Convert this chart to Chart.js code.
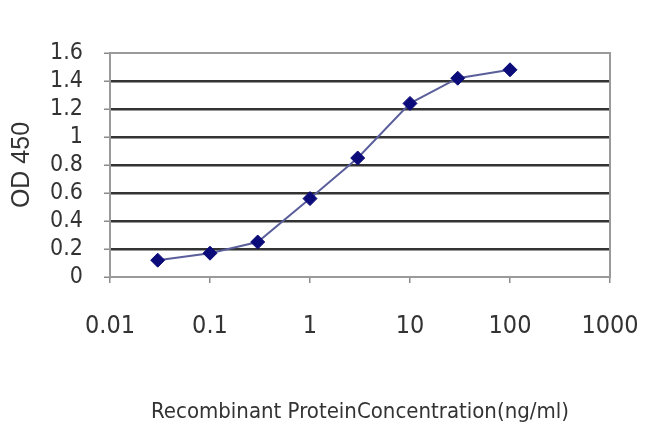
<!DOCTYPE html>
<html>
<head>
  <meta charset="UTF-8" />
  <title>OD 450 curve</title>
  <script src="https://cdn.jsdelivr.net/npm/chart.js"></script>
  <style>
    html, body { margin: 0; padding: 0; background: #fff; }
    #wrap { width: 650px; height: 434px; }
  </style>
</head>
<body>
  <div id="wrap"><canvas id="odChart"></canvas></div>

  <script>
    // concentration (ng/ml) and OD 450 readings
    const concentrations = [0.03, 0.1, 0.3, 1, 3, 10, 30, 100];
    const odValues = [0.12, 0.17, 0.25, 0.56, 0.85, 1.24, 1.42, 1.48];

    const xTicks = [0.01, 0.1, 1, 10, 100, 1000];
    const xTickLabels = ['0.01', '0.1', '1', '10', '100', '1000'];
    const yTickLabels = ['0', '0.2', '0.4', '0.6', '0.8', '1', '1.2', '1.4', '1.6'];

    const narrow = "'Liberation Sans Narrow', 'DejaVu Sans Condensed', sans-serif";

    // gray box round the plot area
    const frame = {
      id: 'frame',
      beforeDatasetsDraw(chart) {
        const a = chart.chartArea;
        const ctx = chart.ctx;
        ctx.save();
        ctx.strokeStyle = '#9a9a9a';
        ctx.lineWidth = 2;
        ctx.strokeRect(a.left, a.top, a.right - a.left, a.bottom - a.top);
        ctx.restore();
      }
    };

    new Chart(document.getElementById('odChart'), {
      type: 'scatter',
      data: {
        datasets: [{
          data: concentrations.map((c, i) => ({ x: c, y: odValues[i] })),
          showLine: true,
          borderColor: '#5a5f9c',
          borderWidth: 2,
          tension: 0,
          pointStyle: 'rectRot',
          pointRadius: 7,
          pointBackgroundColor: '#0b0b7a',
          pointBorderColor: '#0b0b7a',
          pointBorderWidth: 1
        }]
      },
      options: {
        responsive: true,
        maintainAspectRatio: false,
        animation: false,
        layout: { padding: { top: 53, right: 40, left: 0, bottom: 0 } },
        plugins: { legend: { display: false }, tooltip: { enabled: false } },
        scales: {
          x: {
            type: 'logarithmic',
            min: 0.01,
            max: 1000,
            afterBuildTicks: (scale) => { scale.ticks = xTicks.map(v => ({ value: v })); },
            afterFit: (scale) => {
              scale.height = 157;
              scale.paddingLeft = 0;
              scale.paddingRight = 0;
            },
            grid: { drawOnChartArea: false, color: '#8a8a8a', tickLength: 6, lineWidth: 1.5 },
            border: { color: '#9a9a9a', width: 2 },
            ticks: {
              autoSkip: false,
              maxRotation: 0,
              padding: 28,
              color: '#333',
              font: { family: narrow, size: 25 },
              callback: (v, i) => xTickLabels[i]
            },
            title: {
              display: true,
              text: 'Recombinant ProteinConcentration(ng/ml)',
              color: '#333',
              font: { family: narrow, size: 22 },
              padding: { top: 0, bottom: 9 }
            }
          },
          y: {
            min: 0,
            max: 1.6,
            afterFit: (scale) => {
              scale.width = 110;
              scale.paddingTop = 0;
              scale.paddingBottom = 0;
            },
            grid: {
              color: (ctx) => (ctx.tick.value === 0 || ctx.tick.value >= 1.6) ? 'rgba(0,0,0,0)' : '#333',
              lineWidth: 2.5,
              tickColor: '#8a8a8a',
              tickWidth: 1.5,
              tickLength: 6
            },
            border: { color: '#9a9a9a', width: 2 },
            ticks: {
              stepSize: 0.2,
              autoSkip: false,
              padding: 21,
              color: '#333',
              font: { family: narrow, size: 23 },
              callback: (v, i) => yTickLabels[i]
            },
            title: {
              display: true,
              text: 'OD 450',
              color: '#333',
              font: { family: "'Liberation Sans', Arial, sans-serif", size: 25 },
              padding: { top: 7, bottom: 0 }
            }
          }
        }
      },
      plugins: [frame]
    });
  </script>
</body>
</html>
